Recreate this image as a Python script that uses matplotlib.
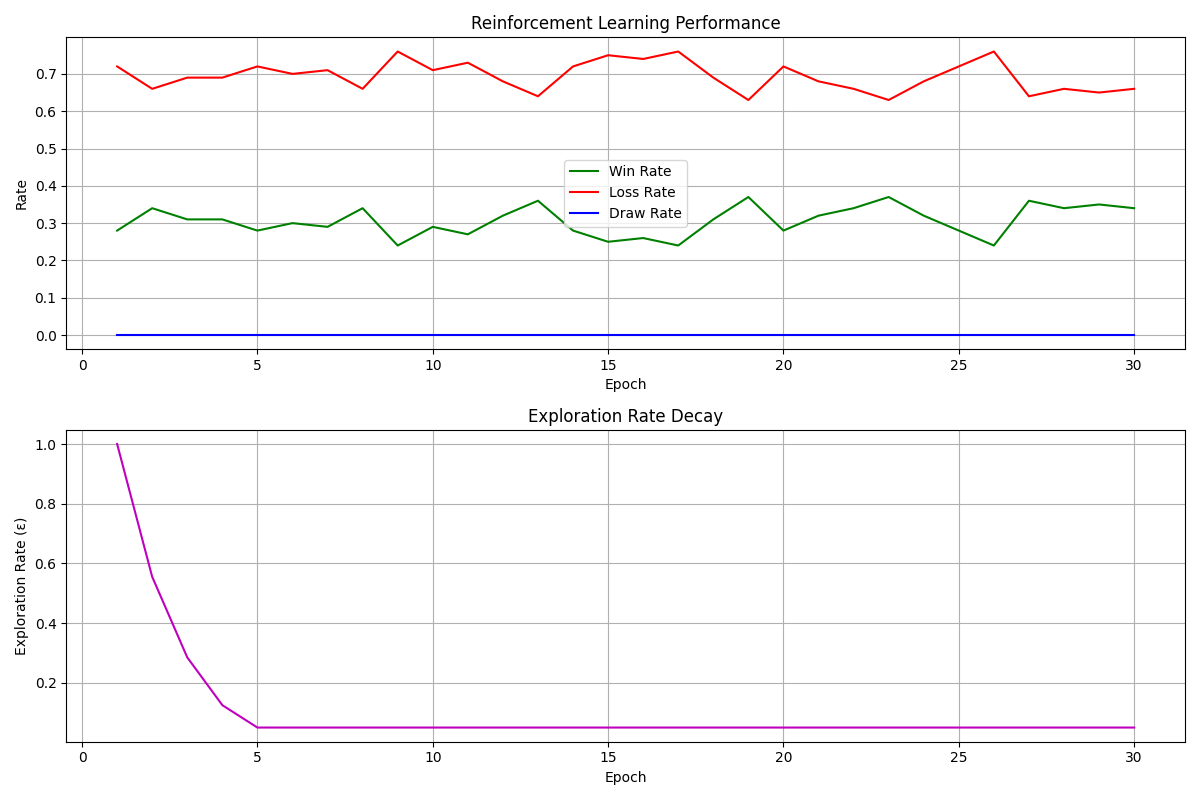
import matplotlib
matplotlib.use("Agg")
import matplotlib.pyplot as plt

epochs = list(range(1, 31))
win_rate = [0.28, 0.34, 0.31, 0.31, 0.28, 0.30, 0.29, 0.34, 0.24, 0.29,
            0.27, 0.32, 0.36, 0.28, 0.25, 0.26, 0.24, 0.31, 0.37, 0.28,
            0.32, 0.34, 0.37, 0.32, 0.28, 0.24, 0.36, 0.34, 0.35, 0.34]
loss_rate = [0.72, 0.66, 0.69, 0.69, 0.72, 0.70, 0.71, 0.66, 0.76, 0.71,
             0.73, 0.68, 0.64, 0.72, 0.75, 0.74, 0.76, 0.69, 0.63, 0.72,
             0.68, 0.66, 0.63, 0.68, 0.72, 0.76, 0.64, 0.66, 0.65, 0.66]
draw_rate = [0.0] * 30
epsilon = [1.0, 0.555, 0.285, 0.125, 0.05] + [0.05] * 25

fig, (ax1, ax2) = plt.subplots(2, 1, figsize=(12, 8))

ax1.plot(epochs, win_rate, 'g-', label='Win Rate')
ax1.plot(epochs, loss_rate, 'r-', label='Loss Rate')
ax1.plot(epochs, draw_rate, 'b-', label='Draw Rate')
ax1.set_title("Reinforcement Learning Performance")
ax1.set_xlabel("Epoch")
ax1.set_ylabel("Rate")
ax1.legend(loc='center')
ax1.grid(True)

ax2.plot(epochs, epsilon, 'm-')
ax2.set_title("Exploration Rate Decay")
ax2.set_xlabel("Epoch")
ax2.set_ylabel("Exploration Rate (ε)")
ax2.grid(True)

plt.tight_layout()
plt.savefig("out.png", dpi=100)
